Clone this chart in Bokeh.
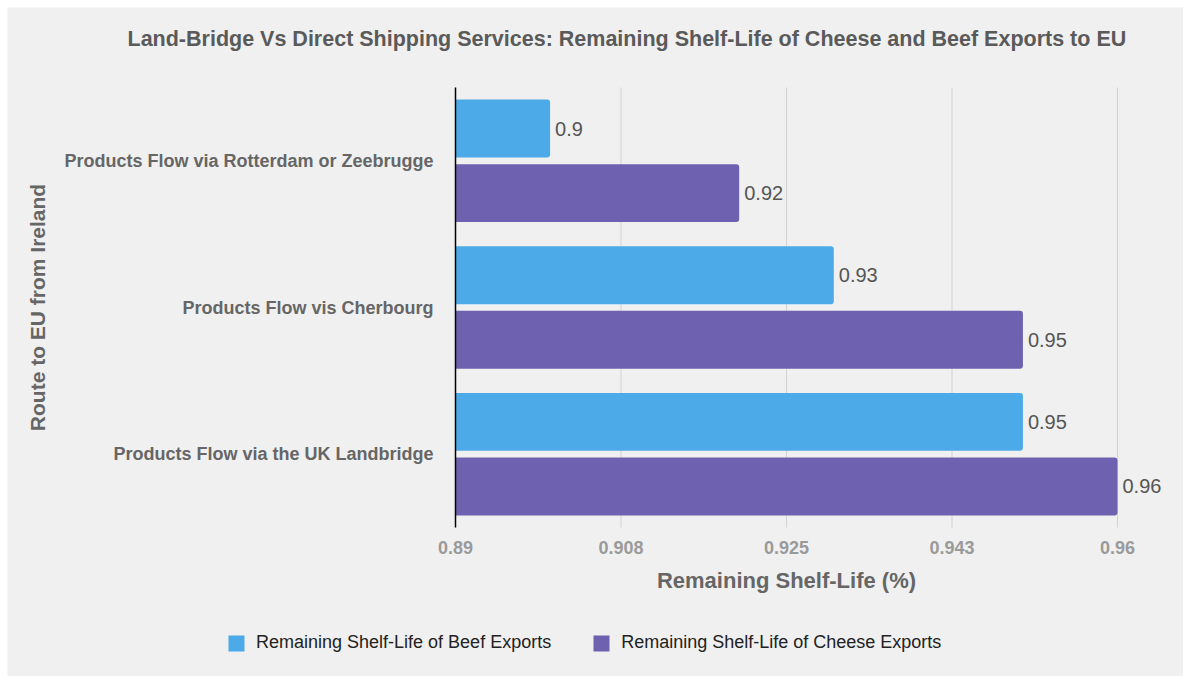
import math
from bokeh.plotting import figure
from bokeh.models import ColumnDataSource, Range1d, Legend, LegendItem
from bokeh.core.properties import value
from bokeh.embed import file_html
from bokeh.resources import INLINE

# ---- data ----
routes = ["Products Flow via Rotterdam or Zeebrugge",
          "Products Flow vis Cherbourg",
          "Products Flow via the UK Landbridge"]
beef = [0.90, 0.93, 0.95]
cheese = [0.92, 0.95, 0.96]
x_start, x_end = 0.89, 0.96
x_ticks = [0.89, 0.9075, 0.925, 0.9425, 0.96]
x_tick_labels = ["0.89", "0.908", "0.925", "0.943", "0.96"]
series_names = ["Remaining Shelf-Life of Beef Exports", "Remaining Shelf-Life of Cheese Exports"]
title_text = "Land-Bridge Vs Direct Shipping Services: Remaining Shelf-Life of Cheese and Beef Exports to EU"
x_label = "Remaining Shelf-Life (%)"
y_label = "Route to EU from Ireland"

BEEF_C = "#4DAAE8"
CHEESE_C = "#6E62B0"
BG = "#F0F0F0"
FONT = "Liberation Sans"

# ---- layout (pixels) ----
W, H = 1176, 669
AX_LEFT, AX_W = 448, 662        # value-axis origin and length inside the canvas
AX_TOP, AX_H = 80, 440          # category band top and height inside the canvas
n = len(routes)
px_x = AX_W / (x_end - x_start)
px_y = AX_H / n
x_lo = x_start - AX_LEFT / px_x
x_hi = x_lo + W / px_x
y_hi = n + AX_TOP / px_y
y_lo = y_hi - H / px_y

OFF = 0.22      # bar offset within a category band
BAR_H = 0.395

yc = [n - i - 0.5 for i in range(n)]
src = ColumnDataSource(dict(
    route=routes,
    yc=yc,
    y_beef=[y + OFF for y in yc],
    y_cheese=[y - OFF for y in yc],
    beef=beef,
    cheese=cheese,
    base=[x_start] * n,
    beef_txt=[f"{v:g}" for v in beef],
    cheese_txt=[f"{v:g}" for v in cheese],
))
tick_src = ColumnDataSource(dict(
    x=x_ticks, label=x_tick_labels, y0=[0] * len(x_ticks), y1=[n] * len(x_ticks)))

p = figure(
    width=W, height=H,
    x_range=Range1d(x_lo, x_hi), y_range=Range1d(y_lo, y_hi),
    x_axis_location=None, y_axis_location=None, title=None,
    output_backend="svg", toolbar_location=None,
    min_border=0,
    background_fill_color=BG, border_fill_color=BG,
    outline_line_color=None,
)
p.margin = (7, 7, 7, 7)
p.xgrid.visible = False
p.ygrid.visible = False

# vertical grid lines
p.segment(x0="x", x1="x", y0="y0", y1="y1", source=tick_src,
          line_color="#D2D2D2", line_width=1)

# bars
r_beef = p.hbar(y="y_beef", left="base", right="beef", height=BAR_H, source=src,
                fill_color=BEEF_C, line_color=None, border_radius=(0, 3, 3, 0))
r_cheese = p.hbar(y="y_cheese", left="base", right="cheese", height=BAR_H, source=src,
                  fill_color=CHEESE_C, line_color=None, border_radius=(0, 3, 3, 0))

# category axis line
p.segment(x0=[x_start], x1=[x_start], y0=[0], y1=[n], line_color="#000000", line_width=1.5)

# value labels
p.text(x="beef", y="y_beef", text="beef_txt", source=src, x_offset=5,
       text_baseline="middle", text_align="left",
       text_font=value(FONT), text_font_size="20px", text_color="#555555")
p.text(x="cheese", y="y_cheese", text="cheese_txt", source=src, x_offset=5,
       text_baseline="middle", text_align="left",
       text_font=value(FONT), text_font_size="20px", text_color="#555555")

# category labels
p.text(x="base", y="yc", text="route", source=src, x_offset=-22,
       text_align="right", text_baseline="middle",
       text_font=value(FONT), text_font_size="18px", text_font_style="bold",
       text_color="#666666")

# y axis title
p.text(x=[x_start], y=[n / 2], text=[y_label], angle=math.pi / 2, x_offset=-418,
       text_align="center", text_baseline="middle",
       text_font=value(FONT), text_font_size="21px", text_font_style="bold",
       text_color="#666666")

# x tick labels
p.text(x="x", y="y0", text="label", source=tick_src, y_offset=20,
       text_align="center", text_baseline="middle",
       text_font=value(FONT), text_font_size="18px", text_font_style="bold",
       text_color="#9A9A9A")

# x axis title
p.text(x=[(x_start + x_end) / 2], y=[0], text=[x_label], y_offset=53,
       text_align="center", text_baseline="middle",
       text_font=value(FONT), text_font_size="22px", text_font_style="bold",
       text_color="#666666")

# chart title
p.text(x=[x_start], y=[n], text=[title_text], x_offset=-328, y_offset=-49,
       text_align="left", text_baseline="middle",
       text_font=value(FONT), text_font_size="21.5px", text_font_style="bold",
       text_color="#5A5A5A")

# legend
lg = Legend(items=[LegendItem(label=series_names[0], renderers=[r_beef]),
                   LegendItem(label=series_names[1], renderers=[r_cheese])])
lg.orientation = "horizontal"
lg.location = (219, 23)
lg.background_fill_alpha = 0
lg.border_line_color = None
lg.padding = 0
lg.margin = 0
lg.spacing = 40
lg.glyph_width = 20
lg.glyph_height = 20
lg.label_height = 20
lg.label_standoff = 10
lg.label_text_font = FONT
lg.label_text_font_size = "18px"
lg.label_text_color = "#222222"
p.add_layout(lg, "center")

open("out.html", "w").write(file_html(p, INLINE))
